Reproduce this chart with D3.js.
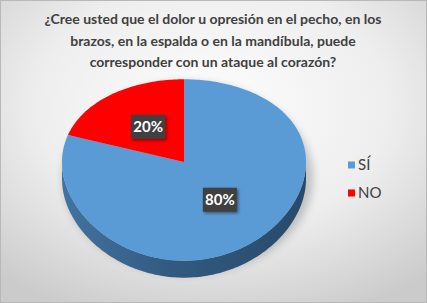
<!DOCTYPE html>
<html>
<head>
<meta charset="utf-8">
<script src="https://cdn.jsdelivr.net/npm/d3@7"></script>
<style>
  html, body { margin: 0; padding: 0; background: #fff; }
  svg { display: block; }
</style>
</head>
<body>
<script>
// data
var categories = ["SÍ", "NO"],
    values = [80, 20],
    labels = ["80%", "20%"],
    colors = ["#5b9bd5", "#ff0000"];

var titleLines = [
  "¿Cree usted que el dolor u opresión en el pecho, en los",
  "brazos, en la espalda o en la mandíbula, puede",
  "corresponder con un ataque al corazón?"
];

var w = 427,
    h = 303;

var cx = 184, cy = 162,
    rx = 122, ry = 90,
    k = 0.088,      // perspective squash of the far half
    depth = 17;

var svg = d3.select("body")
  .append("svg")
  .attr("width", w)
  .attr("height", h);

var defs = svg.append("defs");

var bg = defs.append("radialGradient")
  .attr("id", "bg")
  .attr("cx", "50%").attr("cy", "35%").attr("r", "75%");
bg.append("stop").attr("offset", "0%").attr("stop-color", "#fdfdfd");
bg.append("stop").attr("offset", "55%").attr("stop-color", "#eeeeee");
bg.append("stop").attr("offset", "100%").attr("stop-color", "#cbcbcb");

var side = defs.append("linearGradient")
  .attr("id", "side")
  .attr("x1", "0%").attr("x2", "100%");
side.append("stop").attr("offset", "0%").attr("stop-color", "#4273a1");
side.append("stop").attr("offset", "45%").attr("stop-color", "#325a80");
side.append("stop").attr("offset", "100%").attr("stop-color", "#284a6a");

defs.append("filter").attr("id", "blur")
  .attr("x", "-20%").attr("y", "-20%").attr("width", "140%").attr("height", "140%")
  .append("feGaussianBlur").attr("stdDeviation", 4);

var ds = defs.append("filter").attr("id", "lblshadow")
  .attr("x", "-30%").attr("y", "-30%").attr("width", "170%").attr("height", "170%");
ds.append("feDropShadow").attr("dx", 1.5).attr("dy", 1.5)
  .attr("stdDeviation", 1.5).attr("flood-color", "#000").attr("flood-opacity", 0.45);

svg.append("rect")
  .attr("width", w).attr("height", h)
  .attr("fill", "url(#bg)");
svg.append("rect")
  .attr("x", 0.5).attr("y", 0.5)
  .attr("width", w - 1).attr("height", h - 1)
  .attr("fill", "none").attr("stroke", "#b8b8b8");

// title
svg.append("g")
  .selectAll("text")
  .data(titleLines)
  .enter()
  .append("text")
  .attr("x", 213)
  .attr("y", function (d, i) { return 24 + i * 21.5; })
  .attr("text-anchor", "middle")
  .attr("font-family", "Lato, 'Open Sans', sans-serif")
  .attr("font-weight", "bold")
  .attr("font-size", 14)
  .attr("fill", "#404040")
  .text(function (d) { return d; });

// projection of a point on the tilted disc
function proj(a, f) {
  var u = Math.sin(a) * f,
      v = -Math.cos(a) * f;
  return [cx + rx * u, cy + ry * v / (1 - k * v)];
}

function arcPoints(a0, a1, f) {
  var n = Math.max(2, Math.ceil(Math.abs(a1 - a0) / 0.02));
  return d3.range(n + 1).map(function (i) {
    return proj(a0 + (a1 - a0) * i / n, f);
  });
}

var line = d3.line();

var pie = d3.pie().sort(null).value(function (d) { return d; });
var arcs = pie(values);

// shadow
svg.append("ellipse")
  .attr("cx", cx + 4).attr("cy", cy + 16)
  .attr("rx", rx + 3).attr("ry", ry + 6)
  .attr("fill", "#000").attr("opacity", 0.2)
  .attr("filter", "url(#blur)");

// side wall (front half)
var rimPts = arcPoints(Math.PI / 2, Math.PI * 1.5, 1);
var lowPts = rimPts.map(function (p) { return [p[0], p[1] + depth]; }).reverse();
svg.append("path")
  .attr("d", line(rimPts.concat(lowPts)) + "Z")
  .attr("fill", "url(#side)");

// top face slices
svg.append("g")
  .selectAll("path")
  .data(arcs)
  .enter()
  .append("path")
  .attr("d", function (d) {
    return line([[cx, cy]].concat(arcPoints(d.startAngle, d.endAngle, 1))) + "Z";
  })
  .attr("fill", function (d, i) { return colors[i]; });

// data labels
var lbl = svg.append("g")
  .selectAll("g")
  .data(arcs)
  .enter()
  .append("g")
  .attr("transform", function (d) {
    var p = proj((d.startAngle + d.endAngle) / 2, 0.5);
    return "translate(" + p[0] + "," + p[1] + ")";
  });

lbl.append("rect")
  .attr("x", -17).attr("y", -12)
  .attr("width", 34).attr("height", 24)
  .attr("fill", "#3f3f3f")
  .attr("filter", "url(#lblshadow)");

lbl.append("text")
  .attr("text-anchor", "middle")
  .attr("dy", "0.36em")
  .attr("font-family", "Lato, 'Open Sans', sans-serif")
  .attr("font-weight", "bold")
  .attr("font-size", 15)
  .attr("fill", "#fff")
  .text(function (d, i) { return labels[i]; });

// legend
var legend = svg.append("g")
  .selectAll("g")
  .data(categories)
  .enter()
  .append("g")
  .attr("transform", function (d, i) {
    return "translate(348," + (165 + i * 28) + ")";
  });

legend.append("rect")
  .attr("x", 0).attr("y", -3.5)
  .attr("width", 7).attr("height", 7)
  .attr("fill", function (d, i) { return colors[i]; });

legend.append("text")
  .attr("x", 10)
  .attr("dy", "0.36em")
  .attr("font-family", "Lato, 'Open Sans', sans-serif")
  .attr("font-size", 15)
  .attr("fill", "#404040")
  .text(function (d) { return d; });
</script>
</body>
</html>
